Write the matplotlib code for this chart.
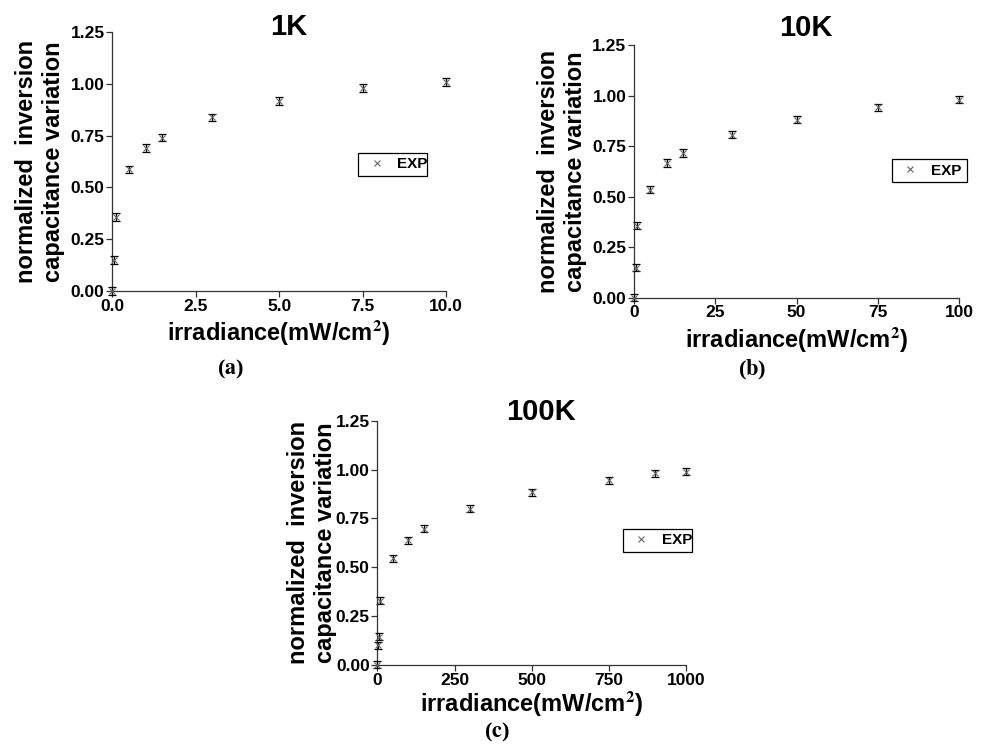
import numpy as np
import matplotlib
matplotlib.use("Agg")
import matplotlib.pyplot as plt

plt.rcParams['font.family'] = ['Liberation Sans', 'DejaVu Sans']
plt.rcParams['font.weight'] = 'bold'
plt.rcParams['mathtext.fontset'] = 'stix'

# irradiance (mW/cm2) and normalized capacitance variation per light intensity
x_1k = [0, 0.05, 0.1, 0.5, 1, 1.5, 3, 5, 7.5, 10]
y_1k = [0.0, 0.15, 0.358, 0.587, 0.69, 0.74, 0.838, 0.917, 0.981, 1.009]

x_10k = [0, 0.5, 1, 5, 10, 15, 30, 50, 75, 100]
y_10k = [0.0, 0.148, 0.356, 0.535, 0.666, 0.716, 0.806, 0.880, 0.942, 0.979]

x_100k = [0, 3, 5, 10, 50, 100, 150, 300, 500, 750, 900, 1000]
y_100k = [0.0, 0.10, 0.145, 0.329, 0.546, 0.638, 0.698, 0.800, 0.884, 0.946, 0.980, 0.989]

err = 0.018

xticks_1k = [0.0, 2.5, 5.0, 7.5, 10.0]
xticks_10k = [0, 25, 50, 75, 100]
xticks_100k = [0, 250, 500, 750, 1000]
yticks = [0.0, 0.25, 0.5, 0.75, 1.0, 1.25]

panels = [
    # x, y, title, xticks, tick format, axes rect, title height, ylabel x, xlabel y, legend box, letter pos
    (x_1k, y_1k, "1K", xticks_1k, "{:.1f}", [0.1142, 0.6104, 0.3395, 0.3467],
     1.021, -0.216, -0.162, (0.737, 0.45, 0.206, 0.08), (0.234, 0.505), "a"),
    (x_10k, y_10k, "10K", xticks_10k, "{:d}", [0.645, 0.6015, 0.3306, 0.3383],
     1.067, -0.222, -0.167, (0.793, 0.459, 0.233, 0.087), (0.765, 0.505), "b"),
    (x_100k, y_100k, "100K", xticks_100k, "{:d}", [0.3838, 0.1098, 0.3143, 0.327],
     1.036, -0.212, -0.157, (0.794, 0.468, 0.225, 0.084), (0.505, 0.019), "c"),
]

fig = plt.figure(figsize=(9.83, 7.47), dpi=100)

for (xs, ys, title, xt, fmt, rect, ty, ylx, xly, lbox, lpos, letter) in panels:
    ax = fig.add_axes(rect)
    ax.errorbar(xs, ys, yerr=err, fmt='none', ecolor='black', elinewidth=0.9,
                capsize=2.8, capthick=0.9, clip_on=False, zorder=3)
    h, = ax.plot(xs, ys, 'x', color='#666666', markersize=4.5, markeredgewidth=0.8,
                 clip_on=False, zorder=4, label='EXP')
    ax.set_xlim(xt[0], xt[-1])
    ax.set_ylim(0, 1.25)
    ax.set_xticks(xt)
    ax.set_xticklabels([fmt.format(v) for v in xt])
    ax.set_yticks(yticks)
    ax.set_yticklabels(["{:.2f}".format(v) for v in yticks])
    for s in ['top', 'right']:
        ax.spines[s].set_visible(False)
    for s in ['left', 'bottom']:
        ax.spines[s].set_color('#333333')
        ax.spines[s].set_linewidth(0.9)
    ax.tick_params(direction='out', length=4, width=0.9, color='#333333',
                   labelsize=12.5, pad=1.5)
    for lab in ax.get_xticklabels() + ax.get_yticklabels():
        lab.set_fontweight('bold')

    ax.text(0.53, ty, title, transform=ax.transAxes, ha='center', va='center',
            fontsize=21, fontweight='bold')
    ax.set_ylabel("normalized  inversion\ncapacitance variation", fontsize=17,
                  fontweight='bold', linespacing=1.25)
    ax.yaxis.set_label_coords(ylx, 0.5)
    ax.yaxis.label.set_va('center')
    ax.set_xlabel(r"irradiance(mW/cm$^\mathbf{2}$)", fontsize=17, fontweight='bold')
    ax.xaxis.set_label_coords(0.5, xly)
    ax.xaxis.label.set_va('center')

    leg = ax.legend(handles=[h], loc='center', bbox_to_anchor=lbox, mode='expand',
                    fancybox=False, framealpha=1, edgecolor='black', fontsize=11,
                    handlelength=1.8, handletextpad=0.45, borderpad=0.3,
                    borderaxespad=0)
    leg.get_frame().set_linewidth(0.9)
    for t in leg.get_texts():
        t.set_fontweight('bold')

    fig.text(lpos[0], lpos[1], r"($\mathbf{" + letter + r"}$)", ha='center', va='center',
             fontsize=16, family=['Liberation Serif', 'DejaVu Serif'])

fig.savefig("out.png", dpi=100)
